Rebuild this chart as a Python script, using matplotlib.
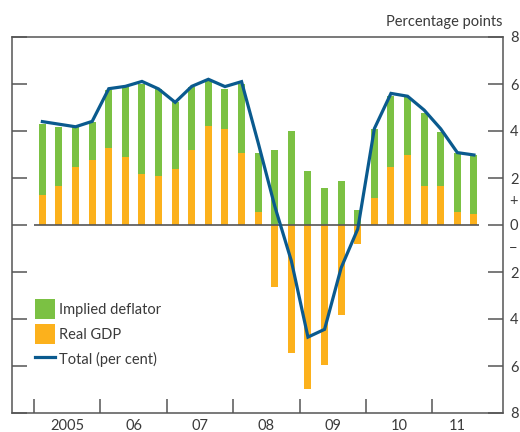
import matplotlib
matplotlib.use("Agg")
import matplotlib.pyplot as plt
import numpy as np
from matplotlib.patches import Patch
from matplotlib.lines import Line2D

# ---- data ----
year_labels = ['2005', '06', '07', '08', '09', '10', '11']
real_gdp = [1.28, 1.67, 2.48, 2.77, 3.29, 2.89, 2.17, 2.09, 2.37, 3.19, 4.20, 4.10,
            3.08, 0.55, -2.64, -5.45, -6.96, -5.96, -3.84, -0.82,
            1.16, 2.48, 2.98, 1.66, 1.66, 0.57, 0.48]
deflator = [3.00, 2.51, 1.70, 1.61, 2.44, 2.98, 3.84, 3.68, 2.86, 2.70, 1.93, 1.70,
            2.93, 2.53, 3.18, 3.99, 2.28, 1.56, 1.86, 0.65,
            2.93, 3.01, 2.48, 3.12, 2.31, 2.49, 2.50]
total = [4.40, 4.29, 4.18, 4.41, 5.80, 5.90, 6.11, 5.79, 5.22, 5.90, 6.20, 5.89,
         6.10, 3.50, 0.80, -1.53, -4.77, -4.44, -1.82, -0.17,
         4.10, 5.60, 5.48, 4.89, 4.09, 3.08, 2.98]
y_ticks = [-8, -6, -4, -2, 0, 2, 4, 6, 8]

plt.rcParams['font.family'] = ['Lato', 'DejaVu Sans']

GREEN = '#7bc143'
ORANGE = '#fcb11c'
BLUE = '#0a5a8e'
AX = '#555555'
TXT = '#3a3a3a'
FS = 10.5

fig = plt.figure(figsize=(5.2, 4.32), dpi=100)
ax = fig.add_axes([12/520, 1-413/432, (503-12)/520, (413-37)/432])

x = np.arange(len(real_gdp))
rg = np.array(real_gdp)
df = np.array(deflator)
w = 0.42
ax.bar(x, rg, width=w, color=ORANGE, zorder=2, label='Real GDP')
ax.bar(x, df, width=w, bottom=np.maximum(rg, 0), color=GREEN, zorder=2,
       label='Implied deflator')
ax.plot([-0.5, len(x) - 0.7], [0, 0], color=AX, lw=1.2, zorder=3,
        solid_capstyle='butt')
ax.plot(x, total, color=BLUE, lw=2.3, zorder=4, solid_joinstyle='miter')

ax.set_xlim(-1.83, 27.75)
ax.set_ylim(-8, 8)

for s in ax.spines.values():
    s.set_color(AX)
    s.set_linewidth(1.1)

ax.set_yticks(y_ticks)
ax.set_yticklabels([str(abs(v)) for v in y_ticks])
ax.tick_params(axis='y', direction='in', length=11, width=1.1, color=AX,
               left=True, right=True, labelleft=False, labelright=True,
               labelsize=FS, labelcolor=TXT, pad=5)

n_years = len(year_labels)
ax.set_xticks([-0.5 + 4 * i for i in range(n_years)])
ax.set_xticklabels([])
ax.set_xticks([1.5 + 4 * i for i in range(n_years - 1)] + [25.0], minor=True)
ax.set_xticklabels(year_labels, minor=True)
ax.tick_params(axis='x', which='major', direction='in', length=10, width=1.1,
               color=AX)
ax.tick_params(axis='x', which='minor', length=0, labelsize=FS,
               labelcolor=TXT, pad=4)

ax.text(1.0, 8.35, 'Percentage points', ha='right', va='bottom', fontsize=FS,
        color=TXT, transform=ax.get_yaxis_transform())
ax.text(1.012, 1.0, '+', ha='left', va='center', fontsize=FS, color=TXT,
        transform=ax.get_yaxis_transform())
ax.text(1.012, -1.0, '\u2212', ha='left', va='center', fontsize=FS, color=TXT,
        transform=ax.get_yaxis_transform())

handles = [Patch(facecolor=GREEN, edgecolor='none'),
           Patch(facecolor=ORANGE, edgecolor='none'),
           Line2D([0], [0], color=BLUE, lw=2.3)]
ax.legend(handles, ['Implied deflator', 'Real GDP', 'Total (per cent)'],
          loc='upper left', bbox_to_anchor=(0.047, 0.302), frameon=False,
          fontsize=FS, labelcolor=TXT, handlelength=1.37, handleheight=1.7,
          handletextpad=0.3, labelspacing=0.36, borderpad=0, borderaxespad=0)

fig.savefig('out.png', dpi=100)
